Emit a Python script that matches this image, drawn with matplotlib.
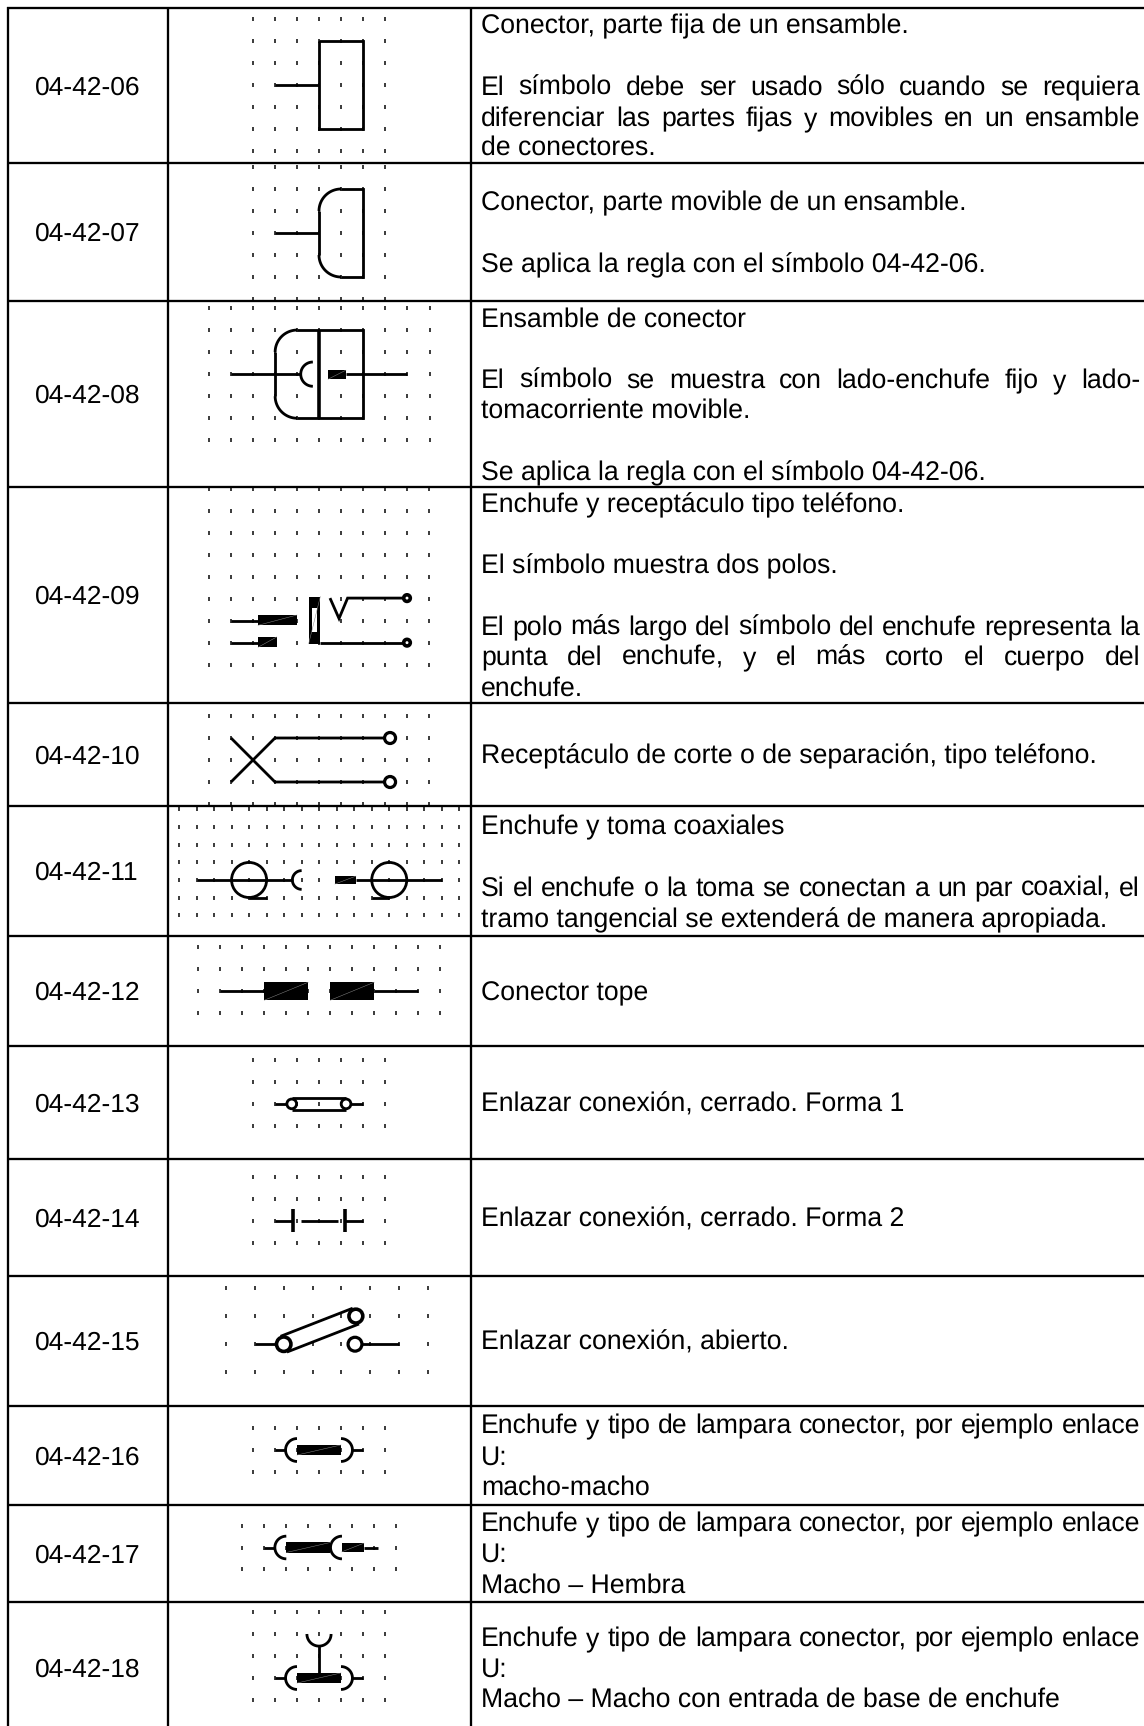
import numpy as np
from matplotlib import pyplot as plt
from matplotlib.patches import Circle, Rectangle

plt.rcParams['font.family'] = ['Liberation Sans', 'DejaVu Sans']
plt.rcParams['text.hinting'] = 'none'

W, H = 1144, 1726
FONT = 19
DESC_FONT = 19.2
TEXT_X0, TEXT_X1 = 481, 1140

codes = ['04-42-06', '04-42-07', '04-42-08', '04-42-09', '04-42-10', '04-42-11', '04-42-12',
         '04-42-13', '04-42-14', '04-42-15', '04-42-16', '04-42-17', '04-42-18']

# table rules, image pixels
row_rules = [8, 163, 301, 487, 703, 806, 936, 1046, 1159, 1276, 1406, 1505, 1602]
col_rules = [8, 168, 471]
code_baselines = [95, 241, 403, 604, 764, 880, 1000, 1112, 1227, 1350, 1465, 1563, 1677]

# baseline, text, justified
desc_1 = [(33, 'Conector, parte fija de un ensamble.', False),
          (95, 'El símbolo debe ser usado sólo cuando se requiera', True),
          (126, 'diferenciar las partes fijas y movibles en un ensamble', True),
          (155, 'de conectores.', False)]
desc_2 = [(210, 'Conector, parte movible de un ensamble.', False),
          (272, 'Se aplica la regla con el símbolo 04-42-06.', False)]
desc_3 = [(327, 'Ensamble de conector', False),
          (388, 'El símbolo se muestra con lado-enchufe fijo y lado-', True),
          (418, 'tomacorriente movible.', False),
          (480, 'Se aplica la regla con el símbolo 04-42-06.', False)]
desc_4 = [(512, 'Enchufe y receptáculo tipo teléfono.', False),
          (573, 'El símbolo muestra dos polos.', False),
          (635, 'El polo más largo del símbolo del enchufe representa la', True),
          (665, 'punta del enchufe, y el más corto el cuerpo del', True),
          (696, 'enchufe.', False)]
desc_5 = [(763, 'Receptáculo de corte o de separación, tipo teléfono.', False)]
desc_6 = [(834, 'Enchufe y toma coaxiales', False),
          (896, 'Si el enchufe o la toma se conectan a un par coaxial, el', True),
          (927, 'tramo tangencial se extenderá de manera apropiada.', False)]
desc_7 = [(1000, 'Conector tope', False)]
desc_8 = [(1112, 'Enlazar conexión, cerrado. Forma 1', False)]
desc_9 = [(1227, 'Enlazar conexión, cerrado. Forma 2', False)]
desc_10 = [(1350, 'Enlazar conexión, abierto.', False)]
desc_11 = [(1433, 'Enchufe y tipo de lampara conector, por ejemplo enlace', True),
           (1465, 'U:', False), (1495, 'macho-macho', False)]
desc_12 = [(1531, 'Enchufe y tipo de lampara conector, por ejemplo enlace', True),
           (1562, 'U:', False), (1593, 'Macho – Hembra', False)]
desc_13 = [(1646, 'Enchufe y tipo de lampara conector, por ejemplo enlace', True),
           (1677, 'U:', False), (1707, 'Macho – Macho con entrada de base de enchufe', False)]
descriptions = [desc_1, desc_2, desc_3, desc_4, desc_5, desc_6, desc_7,
                desc_8, desc_9, desc_10, desc_11, desc_12, desc_13]

# dot grid of each symbol: x0, y0, dx, dy, columns, rows
grids = [(253, 19, 22, 22, 7, 7), (253, 167, 22, 22, 7, 7), (209, 308, 22.05, 22.05, 11, 7),
         (209, 489, 22, 21.95, 11, 9), (209, 716, 22, 22, 11, 5),
         (179, 809.3, 17.52, 17.67, 17, 7), (198.3, 947, 22, 22, 12, 4),
         (253, 1059.7, 22, 22.1, 7, 4), (253, 1177, 22, 22, 7, 4),
         (226, 1288, 28.86, 28.1, 8, 4), (253, 1428, 22, 22, 7, 3),
         (242.3, 1525.7, 22, 21.8, 8, 3), (253, 1612, 22, 22, 7, 5)]

# symbols in grid units (column, row)
sym_06 = [('line', [(1, 3), (3, 3)]), ('line', [(3, 1), (5, 1), (5, 5), (3, 5), (3, 1)])]
sym_07 = [('line', [(1, 3), (3, 3)]), ('line', [(4, 1), (5, 1), (5, 5), (4, 5)]),
          ('line', [(3, 2), (3, 4)]), ('arc', 4, 2, 1, 90, 180), ('arc', 4, 4, 1, 180, 270)]
sym_08 = [('line', [(4, 1), (7, 1), (7, 5), (4, 5)]), ('line', [(3, 2), (3, 4)]),
          ('arc', 4, 2, 1, 90, 180), ('arc', 4, 4, 1, 180, 270),
          ('bar', [(5, 1), (5, 5)]), ('line', [(1, 3), (4.14, 3)]),
          ('arc', 4.71, 3, 0.55, 90, 270), ('fill', 5.40, 2.82, 6.21, 3.23),
          ('line', [(6.21, 3), (9, 3)])]
sym_09 = [('line', [(1, 6), (2.23, 6)]), ('fill', 2.23, 5.74, 4, 6.21),
          ('line', [(1, 7), (2.23, 7)]), ('fill', 2.23, 6.74, 3.08, 7.21),
          ('fill', 4.53, 4.9, 5.06, 7.05), ('hole', 4.68, 5.41, 4.92, 6.53),
          ('line', [(5.06, 7), (9, 7)]), ('line', [(5.5, 4.97), (5.91, 5.9), (6.3, 4.97), (9, 4.97)]),
          ('ring', 9, 4.97, 0.15, 3.6), ('ring', 9, 7, 0.15, 3.6)]
sym_10 = [('line', [(1, 1), (3, 3), (8, 3)]), ('line', [(1, 3), (3, 1), (8, 1)]),
          ('ring', 8.23, 1, 0.25, 3.2), ('ring', 8.23, 3, 0.25, 3.2)]
sym_11 = [('line', [(1, 4), (6.49, 4)]), ('circle', 4, 4, 1), ('line', [(4, 5), (5, 5)]),
          ('arc', 7, 4, 0.53, 90, 270), ('fill', 8.9, 3.78, 10.1, 4.23), ('line', [(10.1, 4), (15, 4)]),
          ('circle', 12, 4, 1), ('line', [(11, 5), (12, 5)])]
sym_12 = [('line', [(1, 2), (3, 2)]), ('fill', 3, 1.6, 5, 2.42),
          ('fill', 6, 1.6, 8, 2.42), ('line', [(8, 2), (10, 2)])]
sym_13 = [('line', [(1, 2), (1.76, 2)]), ('line', [(4.23, 2), (5, 2)]),
          ('line', [(1.76, 1.72), (4.23, 1.72)]), ('line', [(1.76, 2.28), (4.23, 2.28)]),
          ('ring', 1.76, 2, 0.22, 2.8), ('ring', 4.23, 2, 0.22, 2.8)]
sym_14 = [('line', [(1, 2), (1.82, 2)]), ('bar', [(1.82, 1.47), (1.82, 2.5)]),
          ('line', [(2.2, 2), (3.85, 2)]), ('bar', [(4.2, 1.47), (4.2, 2.5)]),
          ('line', [(4.2, 2), (5, 2)])]
sym_15 = [('line', [(1, 2), (2, 2)]), ('line', [(1.89, 1.72), (4.39, 0.72)]),
          ('line', [(2.11, 2.28), (4.61, 1.28)]), ('ring', 2, 2, 0.25, 3.6), ('ring', 4.5, 1, 0.24, 3.6),
          ('line', [(4.5, 2), (6, 2)]), ('ring', 4.47, 2, 0.24, 3.2)]
sym_16 = [('line', [(1, 1), (1.5, 1)]), ('arc', 2, 1, 0.52, 90, 270), ('fill', 2, 0.77, 4, 1.23),
          ('arc', 4, 1, 0.52, -90, 90), ('line', [(4.5, 1), (5, 1)])]
sym_17 = [('line', [(1, 1), (1.5, 1)]), ('arc', 2, 1, 0.52, 90, 270), ('fill', 2, 0.77, 4, 1.23),
          ('arc', 4.53, 1, 0.52, 90, 270), ('fill', 4.52, 0.8, 5.53, 1.2),
          ('line', [(5.53, 1), (6.15, 1)])]
sym_18 = [('line', [(1, 3), (1.5, 3)]), ('arc', 2, 3, 0.52, 90, 270), ('fill', 2, 2.77, 4, 3.23),
          ('arc', 4, 3, 0.52, -90, 90), ('line', [(4.5, 3), (5, 3)]),
          ('arc', 3, 1, 0.55, 180, 360), ('line', [(3, 1.55), (3, 3)])]
symbols = [sym_06, sym_07, sym_08, sym_09, sym_10, sym_11, sym_12,
           sym_13, sym_14, sym_15, sym_16, sym_17, sym_18]

PX = 0.72  # one pixel in points at dpi 100


def draw_symbol(ax, grid, parts):
    x0, y0, dx, dy, ncols, nrows = grid
    X = lambda c: x0 + dx * np.asarray(c, dtype=float)
    Y = lambda r: y0 + dy * np.asarray(r, dtype=float)

    cols, rows = np.meshgrid(np.arange(ncols), np.arange(nrows))
    ax.plot(X(cols).ravel(), Y(rows).ravel(), ls='', marker='|', ms=4 * PX, mew=1.5 * PX,
            color='k', zorder=2)

    for part in parts:
        kind = part[0]
        if kind in ('line', 'bar'):
            c, r = zip(*part[1])
            lw = 2.8 if kind == 'line' else 3.6
            ax.plot(X(c), Y(r), color='k', lw=lw * PX, solid_capstyle='butt',
                    solid_joinstyle='miter', zorder=3)
        elif kind == 'arc':
            _, c, r, rad, a0, a1 = part
            t = np.radians(np.linspace(a0, a1, 40))
            ax.plot(X(c + rad * np.cos(t)), Y(r - rad * np.sin(t)), color='k', lw=2.8 * PX,
                    solid_capstyle='butt', zorder=3)
        elif kind in ('fill', 'hole'):
            _, c0, r0, c1, r1 = part
            ax.add_patch(Rectangle((X(c0), Y(r0)), dx * (c1 - c0), dy * (r1 - r0), lw=0,
                                   fc='k' if kind == 'fill' else 'w', zorder=4))
            if kind == 'fill':
                ax.plot([X(c0), X(c1)], [Y(r1), Y(r0)], color='#888888', lw=0.35, zorder=5)
        elif kind == 'circle':
            _, c, r, rad = part
            ax.add_patch(Circle((X(c), Y(r)), rad * dx, fc='none', ec='k', lw=2.8 * PX, zorder=3))
        elif kind == 'ring':
            _, c, r, rad, lw = part
            ax.add_patch(Circle((X(c), Y(r)), rad * dx, fc='w', ec='k', lw=lw * PX, zorder=5))


def draw_line(ax, renderer, baseline, text, justified):
    if not justified:
        ax.text(TEXT_X0, baseline, text, fontsize=DESC_FONT, va='baseline', color='k')
        return
    words = text.split(' ')
    items = [ax.text(TEXT_X0, baseline, w, fontsize=DESC_FONT, va='baseline', color='k') for w in words]
    widths = [t.get_window_extent(renderer).width for t in items]
    gap = (TEXT_X1 - TEXT_X0 - sum(widths)) / (len(words) - 1)
    x = TEXT_X0
    for t, w in zip(items, widths):
        t.set_x(x)
        x += w + gap


fig = plt.figure(figsize=(W / 100, H / 100), dpi=100)
ax = fig.add_axes([0, 0, 1, 1])
ax.set_xlim(0, W)
ax.set_ylim(H, 0)
ax.axis('off')
renderer = fig.canvas.get_renderer()

for y in row_rules:
    ax.plot([col_rules[0] - 1, W], [y, y], color='k', lw=2.3 * PX, zorder=6, solid_capstyle='butt')
for x in col_rules:
    ax.plot([x, x], [row_rules[0] - 1, H], color='k', lw=2.3 * PX, zorder=6, solid_capstyle='butt')

for code, base in zip(codes, code_baselines):
    ax.text(35, base, code, fontsize=FONT, va='baseline', color='k')
for lines in descriptions:
    for base, text, justified in lines:
        draw_line(ax, renderer, base, text, justified)
for grid, parts in zip(grids, symbols):
    draw_symbol(ax, grid, parts)

fig.savefig('out.png', dpi=100)
